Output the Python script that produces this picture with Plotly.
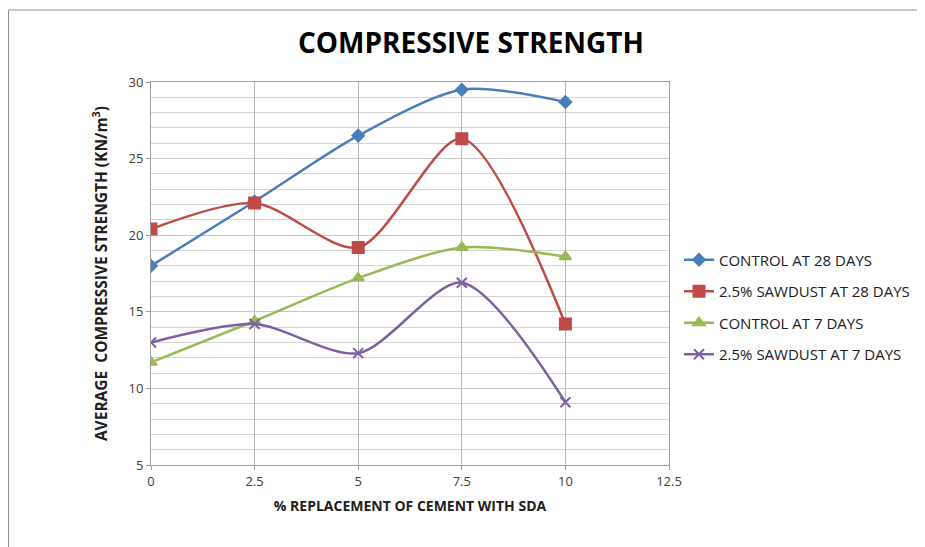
import plotly.graph_objects as go

x_vals = [0, 2.5, 5, 7.5, 10]
control_28 = [18.0, 22.2, 26.5, 29.5, 28.7]
sawdust_28 = [20.4, 22.1, 19.2, 26.3, 14.2]
control_7 = [11.7, 14.4, 17.2, 19.2, 18.6]
sawdust_7 = [13.0, 14.2, 12.3, 16.9, 9.1]

names = ["CONTROL AT 28 DAYS", "2.5% SAWDUST AT 28 DAYS", "CONTROL AT 7 DAYS", "2.5% SAWDUST AT 7 DAYS"]
series = [control_28, sawdust_28, control_7, sawdust_7]
colors = ["#4a7ebb", "#be4b48", "#98b954", "#7d60a0"]
symbols = ["diamond", "square", "triangle-up", "x-thin"]
sizes = [9, 11, 10, 10]

fig = go.Figure()
for i, (n, s, c, sym, sz) in enumerate(zip(names, series, colors, symbols, sizes)):
    fig.add_trace(go.Scatter(
        x=x_vals, y=s, name=n, mode="lines+markers", legendgroup=f"g{i}",
        line=dict(color=c, width=2.5, shape="spline", smoothing=0.8),
        marker=dict(symbol=sym, size=sz, color=c, line=dict(color=c, width=2)),
    ))

# plot area: x 151..669, y 82..465 (page has 8px body offset)
L, T = 143, 74
fig.update_layout(
    width=925, height=547,
    paper_bgcolor="white", plot_bgcolor="white",
    margin=dict(l=L, r=925 - 669 + 8, t=T, b=547 - 465 + 8),
    font=dict(family="Open Sans, Lato, sans-serif", color="#404040", size=13),
    title=dict(text="<b>COMPRESSIVE STRENGTH</b>", x=(471 - 8) / 925, xanchor="center",
               y=1 - (43 - 8) / 547, yanchor="middle",
               font=dict(size=28, color="#000000", family="Open Sans, sans-serif")),
    legend=dict(x=1 + (679 - 669) / 518, y=(465 - 307) / 383, xanchor="left", yanchor="middle",
                tracegroupgap=9, itemwidth=30,
                font=dict(size=15, color="#202020"),
                bgcolor="rgba(0,0,0,0)"),
    showlegend=True,
)
fig.update_xaxes(
    range=[0, 12.5], tickvals=[0, 2.5, 5, 7.5, 10, 12.5], ticktext=["0", "2.5", "5", "7.5", "10", "12.5"],
    showgrid=True, gridcolor="#b8b8b8", gridwidth=1,
    showline=True, linecolor="#a0a0a0", linewidth=1, mirror=True,
    ticks="outside", ticklen=4, tickcolor="#a0a0a0",
    tickfont=dict(size=13, color="#404040"), zeroline=False,
    title=dict(text="<b>% REPLACEMENT OF CEMENT WITH SDA</b>", font=dict(size=14, color="#202020"), standoff=12),
)
fig.update_yaxes(
    range=[5, 30], tickvals=[5, 10, 15, 20, 25, 30],
    showgrid=True, gridcolor="#c8c8c8", gridwidth=1,
    minor=dict(dtick=1, showgrid=True, gridcolor="#d4d4d4", gridwidth=1),
    showline=True, linecolor="#a0a0a0", linewidth=1, mirror=True,
    ticks="outside", ticklen=4, tickcolor="#a0a0a0",
    tickfont=dict(size=13, color="#404040"), zeroline=False,
    title=dict(text="<b>AVERAGE  COMPRESSIVE STRENGTH (KN/m<sup>3</sup>)</b>", font=dict(size=15.5, color="#202020"), standoff=17),
)
# outer frame (top and left edges of the chart area)
fig.add_shape(type="line", xref="paper", yref="paper", x0=-142.5 / 518, x1=(925 - 151) / 518 + 0.05,
              y0=(465 - 10) / 383, y1=(465 - 10) / 383, line=dict(color="#909090", width=1))
fig.add_shape(type="line", xref="paper", yref="paper", x0=-142.5 / 518, x1=-142.5 / 518,
              y0=(465 - 10) / 383, y1=-100 / 383, line=dict(color="#909090", width=1))

fig.write_html("out.html")
